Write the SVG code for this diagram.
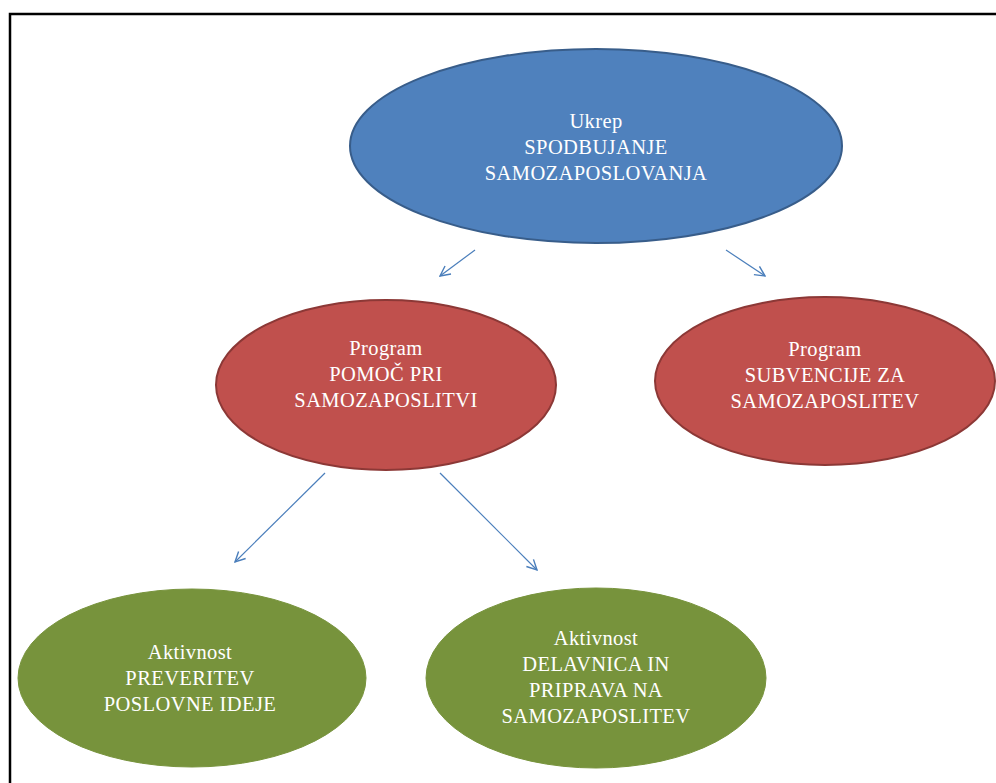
<svg xmlns="http://www.w3.org/2000/svg" width="996" height="783" viewBox="0 0 996 783">
<style>
.t{font-family:"Liberation Serif","Times New Roman",serif;font-size:20.5px;fill:#ffffff;text-anchor:middle;letter-spacing:0.4px}
.blue{fill:#4F81BD;stroke:#385D8A;stroke-width:2}
.red{fill:#C0504D;stroke:#8C3836;stroke-width:2}
.green{fill:#77933C;stroke:#77933C;stroke-width:1}
.c{stroke:#4A7EBB;stroke-width:1.2;fill:none;marker-end:url(#ah)}
</style>
<defs>
<marker id="ah" viewBox="0 0 12 12" refX="11" refY="6" markerWidth="12" markerHeight="12" markerUnits="userSpaceOnUse" orient="auto">
<path d="M1,1 L11,6 L1,11" fill="none" stroke="#4A7EBB" stroke-width="1.4"/>
</marker>
</defs>
<rect width="996" height="783" fill="#ffffff"/>
<path d="M10,783 L10,14 L996,14" fill="none" stroke="#000000" stroke-width="2.5"/>
<g id="connectors">
<line class="c" x1="475" y1="250" x2="440" y2="276"/>
<line class="c" x1="726" y1="250" x2="765" y2="276"/>
<line class="c" x1="325" y1="473" x2="235" y2="562"/>
<line class="c" x1="440" y1="473" x2="537" y2="570"/>
</g>
<g id="ukrep">
<ellipse class="blue" cx="596" cy="146" rx="246" ry="97"/>
<text class="t" x="596" y="128">Ukrep</text>
<text class="t" x="596" y="154">SPODBUJANJE</text>
<text class="t" x="596" y="180">SAMOZAPOSLOVANJA</text>
</g>
<g id="program1">
<ellipse class="red" cx="386" cy="385" rx="170" ry="85"/>
<text class="t" x="386" y="355">Program</text>
<text class="t" x="386" y="381">POMOČ PRI</text>
<text class="t" x="386" y="407">SAMOZAPOSLITVI</text>
</g>
<g id="program2">
<ellipse class="red" cx="825" cy="381" rx="170" ry="84"/>
<text class="t" x="825" y="356">Program</text>
<text class="t" x="825" y="382">SUBVENCIJE ZA</text>
<text class="t" x="825" y="408">SAMOZAPOSLITEV</text>
</g>
<g id="aktivnost1">
<ellipse class="green" cx="192" cy="678" rx="174" ry="89"/>
<text class="t" x="190" y="659">Aktivnost</text>
<text class="t" x="190" y="685">PREVERITEV</text>
<text class="t" x="190" y="711">POSLOVNE IDEJE</text>
</g>
<g id="aktivnost2">
<ellipse class="green" cx="596" cy="678" rx="170" ry="90"/>
<text class="t" x="596" y="645">Aktivnost</text>
<text class="t" x="596" y="671">DELAVNICA IN</text>
<text class="t" x="596" y="697">PRIPRAVA NA</text>
<text class="t" x="596" y="723">SAMOZAPOSLITEV</text>
</g>
</svg>
